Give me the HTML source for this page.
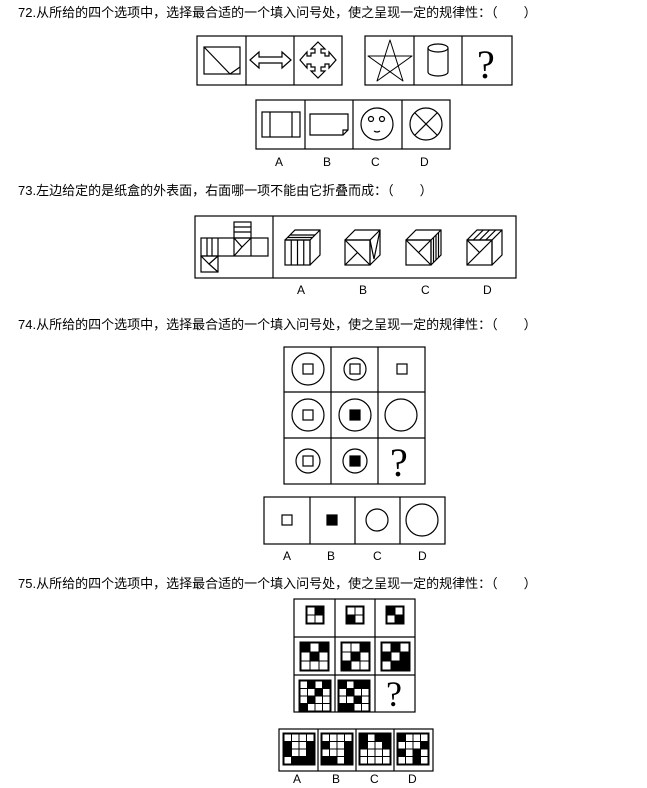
<!DOCTYPE html>
<html><head><meta charset="utf-8"><style>
html,body{margin:0;padding:0;background:#fff;width:647px;height:788px;overflow:hidden}
svg{display:block}
text{font-family:"Liberation Sans","Noto Sans CJK SC",sans-serif;font-size:13px;fill:#000}
.l{font-size:12px}
.q{font-family:"Liberation Serif",serif;font-size:40px}
</style></head><body>
<svg id="s" width="647" height="788" viewBox="0 0 647 788" fill="none" stroke="#000" stroke-width="1.2">
<g stroke="none">
<text x="18" y="17">72.从所给的四个选项中，选择最合适的一个填入问号处，使之呈现一定的规律性：（　　）</text>
<text x="18" y="195">73.左边给定的是纸盒的外表面，右面哪一项不能由它折叠而成：（　　）</text>
<text x="18" y="329">74.从所给的四个选项中，选择最合适的一个填入问号处，使之呈现一定的规律性：（　　）</text>
<text x="18" y="588">75.从所给的四个选项中，选择最合适的一个填入问号处，使之呈现一定的规律性：（　　）</text>
<text class="l" x="275" y="166">A</text><text class="l" x="323" y="166">B</text><text class="l" x="371" y="166">C</text><text class="l" x="420" y="166">D</text>
<text class="l" x="297" y="294">A</text><text class="l" x="359" y="294">B</text><text class="l" x="421" y="294">C</text><text class="l" x="483" y="294">D</text>
<text class="l" x="283" y="560">A</text><text class="l" x="327" y="560">B</text><text class="l" x="373" y="560">C</text><text class="l" x="418" y="560">D</text>
<text class="l" x="293" y="783">A</text><text class="l" x="332" y="783">B</text><text class="l" x="370" y="783">C</text><text class="l" x="408" y="783">D</text>
<text class="q" x="477" y="78">?</text>
<text class="q" x="390" y="476">?</text>
<text class="q" x="386" y="706" style="font-size:36px">?</text>
</g>
<!-- Q72 -->
<rect x="197" y="36" width="145" height="49"/><line x1="246" y1="36" x2="246" y2="85"/><line x1="294" y1="36" x2="294" y2="85"/>
<rect x="365" y="36" width="147" height="49"/><line x1="414" y1="36" x2="414" y2="85"/><line x1="462" y1="36" x2="462" y2="85"/>
<rect x="204" y="47" width="36" height="27"/><line x1="204" y1="47" x2="230" y2="74"/><line x1="230" y1="74" x2="240" y2="67"/>
<polygon points="250,60 259,52 259,57 282,57 282,52 291,60 282,68 282,63 259,63 259,68"/>
<polygon points="318,42 325,49 321,49 321,53 325,53 325,56 329,56 329,52 336,60 329,68 329,64 325,64 325,67 321,67 321,71 325,71 318,78 311,71 315,71 315,67 311,67 311,64 307,64 307,68 300,60 307,52 307,56 311,56 311,53 315,53 315,49 311,49"/>
<polygon points="390,40 403,81 368,56 412,56 377,81" stroke-linejoin="round" stroke-width="1"/>
<ellipse cx="438" cy="48" rx="10" ry="4"/><path d="M428 48 V72 A10 4 0 0 0 448 72 V48"/>
<rect x="256" y="100" width="194" height="49"/><line x1="305" y1="100" x2="305" y2="149"/><line x1="353" y1="100" x2="353" y2="149"/><line x1="402" y1="100" x2="402" y2="149"/>
<rect x="262" y="112" width="38" height="25"/><line x1="270" y1="112" x2="270" y2="137"/><line x1="292" y1="112" x2="292" y2="137"/>
<path d="M310 114 H348 V130 L343 135 H310 Z M343 135 V130 H348"/>
<circle cx="377" cy="124" r="16"/><circle cx="371" cy="119" r="2.5"/><circle cx="382" cy="119" r="2.5"/><path d="M374 131 Q377 133 380 131"/>
<circle cx="426" cy="124" r="16"/><line x1="415" y1="113" x2="437" y2="135"/><line x1="437" y1="113" x2="415" y2="135"/>
<!-- Q73 -->
<rect x="195" y="216" width="321" height="62"/><line x1="273" y1="216" x2="273" y2="278"/>
<rect x="201" y="238" width="67" height="18"/><line x1="218" y1="238" x2="218" y2="256"/><line x1="234" y1="238" x2="234" y2="256"/><line x1="251" y1="238" x2="251" y2="256"/>
<line x1="207" y1="238" x2="207" y2="256"/><line x1="212" y1="238" x2="212" y2="256"/>
<rect x="234" y="222" width="17" height="16"/><line x1="234" y1="227" x2="251" y2="227"/><line x1="234" y1="232" x2="251" y2="232"/>
<path d="M234 238 L242 247 L251 238 M242 247 L234 256"/>
<rect x="201" y="256" width="17" height="16"/><path d="M201 256 L209 264 L218 256 M209 264 L218 272"/>
<g id="cubes"></g>
<!-- Q74 -->
<rect x="284" y="347" width="141" height="137"/><line x1="331" y1="347" x2="331" y2="484"/><line x1="378" y1="347" x2="378" y2="484"/><line x1="284" y1="392" x2="425" y2="392"/><line x1="284" y1="438" x2="425" y2="438"/>
<circle cx="308" cy="369" r="16"/><rect x="303" y="364" width="10" height="10"/>
<circle cx="355" cy="369" r="11"/><rect x="350" y="364" width="10" height="10"/>
<rect x="397" y="364" width="10" height="10"/>
<circle cx="308" cy="415" r="16"/><rect x="303" y="410" width="10" height="10"/>
<circle cx="355" cy="415" r="16"/><rect x="350" y="410" width="10" height="10" fill="#000"/>
<circle cx="401" cy="415" r="16"/>
<circle cx="308" cy="461" r="12"/><rect x="303" y="456" width="10" height="10"/>
<circle cx="355" cy="461" r="12"/><rect x="350" y="456" width="10" height="10" fill="#000"/>
<rect x="264" y="497" width="181" height="47"/><line x1="310" y1="497" x2="310" y2="544"/><line x1="355" y1="497" x2="355" y2="544"/><line x1="400" y1="497" x2="400" y2="544"/>
<rect x="282" y="515" width="10" height="10"/><rect x="327" y="515" width="10" height="10" fill="#000"/>
<circle cx="377" cy="520" r="11"/><circle cx="422" cy="520" r="16"/>
<!-- Q75 -->
<rect x="294" y="599" width="121" height="113"/>
<line x1="335" y1="599" x2="335" y2="712"/><line x1="375" y1="599" x2="375" y2="712"/><line x1="294" y1="637" x2="415" y2="637"/><line x1="294" y1="675" x2="415" y2="675"/>
<rect x="279" y="729" width="154" height="42"/><line x1="318" y1="729" x2="318" y2="771"/><line x1="356" y1="729" x2="356" y2="771"/><line x1="394" y1="729" x2="394" y2="771"/>
<g id="grids" stroke-width="1"></g>
</svg>
<script>
var NS="http://www.w3.org/2000/svg";
function el(p,t,a){var e=document.createElementNS(NS,t);for(var k in a)e.setAttribute(k,a[k]);p.appendChild(e);return e;}
var g=document.getElementById('grids');
function grid(x,y,c,m){var n=m.length;el(g,'rect',{x:x-1,y:y-1,width:n*c+2,height:n*c+2});
for(var i=0;i<n;i++)for(var j=0;j<n;j++)el(g,'rect',{x:x+j*c,y:y+i*c,width:c,height:c,fill:m[i][j]?'#000':'#fff'});}
grid(307,607,8,[[0,1],[0,0]]);grid(347,607,8,[[0,0],[1,0]]);grid(387,607,8,[[1,0],[0,1]]);
grid(301,643,9,[[1,0,1],[0,1,0],[0,0,0]]);grid(342,643,9,[[0,0,1],[0,1,0],[1,0,0]]);grid(382,643,9,[[0,1,0],[1,0,1],[0,1,1]]);
grid(300,681,7.5,[[0,1,0,1],[0,0,1,0],[0,1,0,0],[1,0,0,0]]);grid(339,681,7.5,[[1,0,1,1],[0,1,0,0],[0,0,1,0],[1,1,0,0]]);
grid(284,734,7.5,[[0,0,0,0],[1,0,0,1],[1,0,0,1],[0,1,1,1]]);grid(322,734,7.5,[[0,0,0,0],[1,0,0,1],[0,0,0,1],[1,1,0,1]]);
grid(360,734,7.5,[[1,0,1,1],[1,0,0,1],[0,0,0,0],[0,0,0,0]]);grid(398,734,7.5,[[1,0,0,0],[0,0,0,1],[1,0,1,0],[0,0,1,0]]);
var c=document.getElementById('cubes');
function cube(x,y,type){var s=25,d=10;
el(c,'path',{d:'M'+x+' '+y+' l'+d+' '+(-d)+' h'+s+' v'+s+' l'+(-d)+' '+d+' M'+x+' '+y+' h'+s+' l'+d+' '+(-d)+' M'+(x+s)+' '+y+' v'+s});
el(c,'rect',{x:x,y:y,width:s,height:s});
if(type=='A'){for(var i=1;i<4;i++)el(c,'line',{x1:x+i*6.25,y1:y,x2:x+i*6.25,y2:y+s});for(i=1;i<3;i++)el(c,'line',{x1:x+i*2.5,y1:y-i*2.5,x2:x+s+i*2.5,y2:y-i*2.5});}
if(type=='B'){el(c,'path',{d:'M'+x+' '+y+' L'+(x+s)+' '+(y+s)+' M'+x+' '+(y+s)+' L'+(x+s/2)+' '+(y+s/2)+' M'+(x+s)+' '+y+' L'+(x+s+4)+' '+(y+s-6)+' L'+(x+s+d)+' '+(y-d)});}
if(type=='C'){el(c,'path',{d:'M'+x+' '+y+' L'+(x+s/2)+' '+(y+s/2)+' L'+(x+s)+' '+y+' M'+(x+s/2)+' '+(y+s/2)+' L'+(x+s)+' '+(y+s)});for(var i=1;i<4;i++)el(c,'line',{x1:x+s+i*2.5,y1:y-i*2.5,x2:x+s+i*2.5,y2:y+s-i*2.5});}
if(type=='D'){el(c,'path',{d:'M'+x+' '+y+' L'+(x+s/2)+' '+(y+s/2)+' L'+(x+s)+' '+y+' M'+(x+s/2)+' '+(y+s/2)+' L'+x+' '+(y+s)});for(var i=1;i<4;i++)el(c,'line',{x1:x+i*6.25,y1:y,x2:x+i*6.25+d,y2:y-d});}
}
cube(285,240,'A');cube(345,240,'B');cube(406,240,'C');cube(467,240,'D');
</script>
</body></html>
